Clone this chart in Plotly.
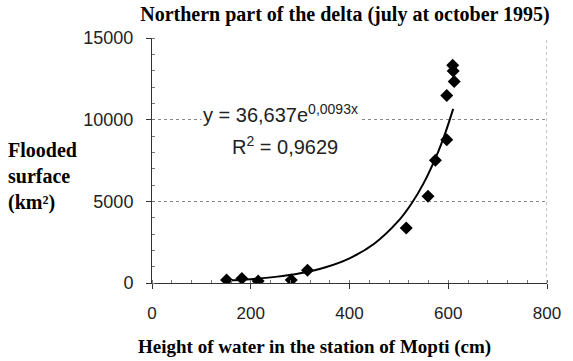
import plotly.graph_objects as go

# Observed data (height of water at Mopti, cm ; flooded surface, km²)
height_cm = [151, 182, 215, 282, 315, 515, 559, 574, 597, 597, 612, 610, 609]
flooded_km2 = [184, 282, 122, 184, 773, 3374, 5313, 7522, 8773, 11472, 12331, 12981, 13331]

# Trend curve (y = 36,637e^0,0093x)
trend_x = [150, 200, 250, 300, 350, 400, 450, 500, 525, 550, 580, 595, 610]
trend_y = [148, 235, 375, 596, 950, 1512, 2407, 3832, 4835, 6100, 8064, 9270, 10658]

x_ticks = [0, 200, 400, 600, 800]
x_tick_labels = ["0", "200", "400", "600", "800"]
y_ticks = [0, 5000, 10000, 15000]
y_tick_labels = ["0", "5000", "10000", "15000"]

title_text = "Northern part of the delta (july at october 1995)"
x_title = "Height of water in the station of Mopti (cm)"
y_title = "Flooded<br>surface<br>(km²)"
eq_text = "y = 36,637e<sup>0,0093x</sup>"
r2_text = "R<sup>2</sup> = 0,9629"

serif = "'Liberation Serif', 'Times New Roman', serif"
sans = "'Liberation Sans', Arial, sans-serif"

fig = go.Figure()
fig.add_trace(go.Scatter(
    x=trend_x, y=trend_y, mode="lines", line=dict(color="black", width=2, shape="spline"),
    hoverinfo="skip", showlegend=False))
fig.add_trace(go.Scatter(
    x=height_cm, y=flooded_km2, mode="markers",
    marker=dict(symbol="diamond", size=10, color="black"), showlegend=False))

fig.update_layout(
    width=573, height=361,
    margin=dict(l=152, r=18, t=38, b=78),
    plot_bgcolor="white", paper_bgcolor="white",
    title=dict(text="<b>" + title_text + "</b>", x=345 / 573, xref="container", xanchor="center",
               y=1 - 14 / 361, yref="container", yanchor="middle",
               font=dict(family=serif, size=20, color="black")),
    xaxis=dict(range=[0, 800], tickvals=x_ticks, ticktext=x_tick_labels,
               showgrid=False, zeroline=False,
               showline=True, linecolor="#333", linewidth=1,
               ticks="outside", ticklen=5, tickcolor="#333",
               minor=dict(dtick=40, ticks="inside", ticklen=3, tickcolor="#777"),
               tickfont=dict(family=sans, size=17, color="#222"), ticklabelstandoff=10),
    yaxis=dict(range=[0, 15000], tickvals=y_ticks, ticktext=y_tick_labels,
               showgrid=True, gridcolor="#888",
               griddash="dot", gridwidth=1, zeroline=False,
               showline=True, linecolor="#333", linewidth=1,
               ticks="outside", ticklen=5, tickcolor="#333",
               minor=dict(dtick=1000, ticks="inside", ticklen=3, tickcolor="#777"),
               tickfont=dict(family=sans, size=18, color="#222"), ticklabelstandoff=9),
    shapes=[dict(type="line", xref="x", yref="paper", x0=800, x1=800, y0=0, y1=1,
                 line=dict(color="#888", width=1, dash="dot"))],
    annotations=[
        dict(text="<b>" + x_title + "</b>", xref="paper", yref="paper",
             x=(318 - 152) / 403, y=(283 - 346.7) / 245, xanchor="center", yanchor="middle",
             showarrow=False, font=dict(family=serif, size=19, color="black")),
        dict(text="<b>" + y_title + "</b>", xref="paper", yref="paper",
             x=(3 - 152) / 403, y=(283 - 177) / 245, xanchor="left", yanchor="middle", align="left",
             showarrow=False, font=dict(family=serif, size=20, color="black")),
        dict(text=eq_text, xref="paper", yref="paper",
             x=(201.7 - 152) / 403, y=(283 - 113) / 245, xanchor="left", yanchor="middle",
             showarrow=False, bgcolor="white", font=dict(family=sans, size=20, color="#222")),
        dict(text=r2_text, xref="paper", yref="paper",
             x=(231.7 - 152) / 403, y=(283 - 145) / 245, xanchor="left", yanchor="middle",
             showarrow=False, font=dict(family=sans, size=20, color="#222")),
    ],
)

fig.write_html("out.html")
